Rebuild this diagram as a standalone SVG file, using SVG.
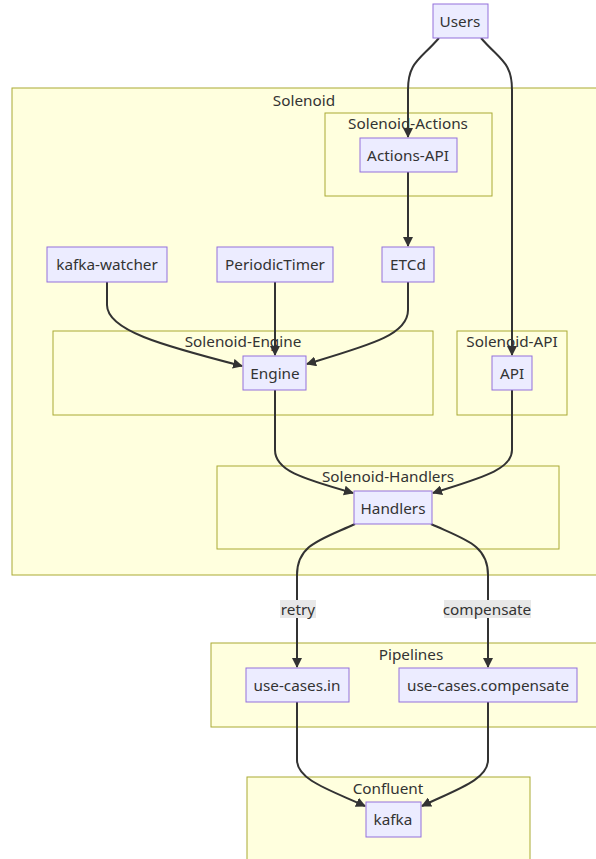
<svg xmlns="http://www.w3.org/2000/svg" width="596" height="859" viewBox="0 0 596 859">
  <style>
    .cluster rect { fill: #ffffde; stroke: #aaaa33; stroke-width: 1; }
    .node rect { fill: #ececff; stroke: #9370db; stroke-width: 1; }
    text { font-family: "Noto Sans", "DejaVu Sans", sans-serif; font-size: 15.3px; fill: #333; text-anchor: middle; dominant-baseline: central; }
    .edge { fill: none; stroke: #333; stroke-width: 2; marker-end: url(#arrow); }
    .elabel rect { fill: #e8e8e8; stroke: none; }
  </style>
  <defs>
    <marker id="arrow" viewBox="0 0 10 10" refX="9" refY="5" markerWidth="5" markerHeight="5" orient="auto" markerUnits="strokeWidth">
      <path d="M0,0 L10,5 L0,10 z" fill="#333"/>
    </marker>
  </defs>
  <rect width="596" height="859" fill="#ffffff"/>

  <!-- clusters -->
  <g id="cluster-solenoid" class="cluster"><rect x="12" y="88" width="590" height="487"/><text x="304" y="100">Solenoid</text></g>
  <g id="cluster-actions" class="cluster"><rect x="325" y="113" width="167" height="83"/><text x="408" y="123">Solenoid-Actions</text></g>
  <g id="cluster-engine" class="cluster"><rect x="53" y="331" width="380" height="84"/><text x="243" y="341">Solenoid-Engine</text></g>
  <g id="cluster-api" class="cluster"><rect x="457" y="331" width="110" height="84"/><text x="512" y="341">Solenoid-API</text></g>
  <g id="cluster-handlers" class="cluster"><rect x="217" y="466" width="342" height="83"/><text x="388" y="476">Solenoid-Handlers</text></g>
  <g id="cluster-pipelines" class="cluster"><rect x="211" y="643" width="400" height="84"/><text x="411" y="654">Pipelines</text></g>
  <g id="cluster-confluent" class="cluster"><rect x="247" y="777" width="283" height="100"/><text x="388" y="788">Confluent</text></g>

  <!-- connectors -->
  <g id="edges">
    <path class="edge" d="M439,38 C420,60 408,62 408,90 L408,137"/>
    <path class="edge" d="M481,38 C500,60 512,62 512,90 L512,355"/>
    <path class="edge" d="M408,172 L408,246"/>
    <path class="edge" d="M107,282 L107,305 C107,330 160,345 242,366"/>
    <path class="edge" d="M275,282 L275,355"/>
    <path class="edge" d="M408,282 L408,310 C408,335 370,345 307,364"/>
    <path class="edge" d="M275,390 L275,450 C275,470 300,478 353,493"/>
    <path class="edge" d="M512,390 L512,450 C512,470 480,478 433,493"/>
    <path class="edge" d="M355,524 C320,540 297,545 297,575 L297,667"/>
    <path class="edge" d="M431,524 C466,540 488,545 488,575 L488,667"/>
    <path class="edge" d="M297,702 L297,760 C297,780 330,790 365,806"/>
    <path class="edge" d="M488,702 L488,760 C488,780 455,790 422,806"/>
  </g>

  <!-- edge labels -->
  <g id="label-retry" class="elabel"><rect x="280" y="600" width="36" height="18"/><text x="298" y="609">retry</text></g>
  <g id="label-compensate" class="elabel"><rect x="444" y="600" width="87" height="18"/><text x="487" y="609">compensate</text></g>

  <!-- nodes -->
  <g id="users" class="node"><rect x="433" y="4" width="55" height="34"/><text x="460" y="21">Users</text></g>
  <g id="actions-api" class="node"><rect x="360" y="138" width="97" height="34"/><text x="408" y="155">Actions-API</text></g>
  <g id="kafka-watcher" class="node"><rect x="47" y="247" width="120" height="35"/><text x="107" y="264">kafka-watcher</text></g>
  <g id="periodic-timer" class="node"><rect x="217" y="247" width="116" height="35"/><text x="275" y="264">PeriodicTimer</text></g>
  <g id="etcd" class="node"><rect x="382" y="247" width="52" height="35"/><text x="408" y="264">ETCd</text></g>
  <g id="engine" class="node"><rect x="243" y="356" width="63" height="34"/><text x="275" y="373">Engine</text></g>
  <g id="api" class="node"><rect x="492" y="356" width="40" height="34"/><text x="512" y="373">API</text></g>
  <g id="handlers" class="node"><rect x="354" y="491" width="78" height="33"/><text x="393" y="508">Handlers</text></g>
  <g id="use-cases-in" class="node"><rect x="246" y="668" width="103" height="34"/><text x="297" y="685">use-cases.in</text></g>
  <g id="use-cases-compensate" class="node"><rect x="399" y="668" width="178" height="34"/><text x="488" y="685">use-cases.compensate</text></g>
  <g id="kafka" class="node"><rect x="366" y="802" width="55" height="35"/><text x="393" y="819">kafka</text></g>
</svg>
